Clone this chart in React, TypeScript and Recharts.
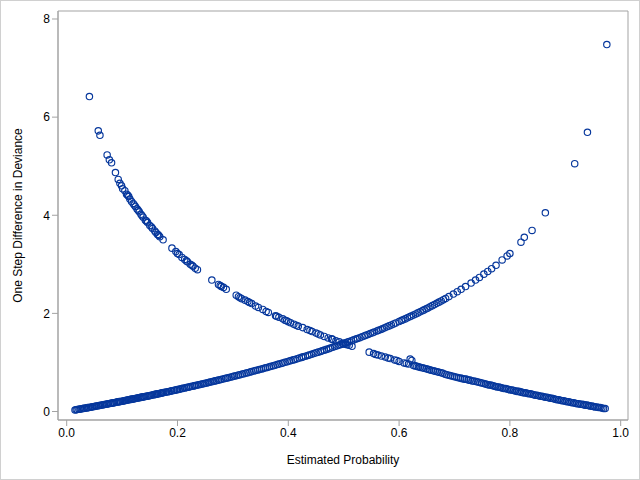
import React from 'react';
import {
  ScatterChart,
  Scatter,
  XAxis,
  YAxis,
  ReferenceArea
} from 'recharts';

// observations with y = 1 : difference falls as the estimated probability rises
const fallProb = [
  0.041, 0.057, 0.06, 0.073, 0.077, 0.081, 0.088, 0.093, 0.096, 0.099, 0.101, 0.105, 0.108, 0.112,
  0.114, 0.117, 0.12, 0.124, 0.127, 0.131, 0.134, 0.138, 0.142, 0.146, 0.15, 0.155, 0.159, 0.164,
  0.168, 0.174, 0.19, 0.197, 0.203, 0.208, 0.213, 0.218, 0.223, 0.228, 0.232, 0.236, 0.262, 0.274,
  0.279, 0.283, 0.288, 0.306, 0.31, 0.316, 0.322, 0.327, 0.334, 0.341, 0.354, 0.36, 0.377, 0.383,
  0.39, 0.397, 0.404, 0.41, 0.418, 0.426, 0.434, 0.443, 0.45, 0.458, 0.465, 0.472, 0.48, 0.486,
  0.492, 0.498, 0.503, 0.51, 0.515, 0.546, 0.554, 0.562, 0.568, 0.575, 0.584, 0.592, 0.6, 0.609,
  0.617, 0.62, 0.623, 0.626, 0.632, 0.638, 0.645, 0.652, 0.658, 0.665, 0.672, 0.679, 0.686, 0.693,
  0.7, 0.707, 0.714, 0.721, 0.728, 0.735, 0.742, 0.749, 0.756, 0.762, 0.768, 0.774, 0.78, 0.786,
  0.792, 0.798, 0.804, 0.81, 0.816, 0.822, 0.828, 0.834, 0.84, 0.846, 0.852, 0.858, 0.864, 0.87,
  0.876, 0.882, 0.888, 0.894, 0.9, 0.906, 0.912, 0.918, 0.924, 0.93, 0.936, 0.942, 0.948, 0.954,
  0.96, 0.966, 0.972
];
const fallDev = [
  6.42, 5.72, 5.63, 5.23, 5.13, 5.07, 4.87, 4.73, 4.65, 4.6, 4.54, 4.5, 4.43, 4.38,
  4.33, 4.28, 4.24, 4.18, 4.13, 4.07, 4.02, 3.96, 3.9, 3.85, 3.79, 3.73, 3.68, 3.61,
  3.56, 3.5, 3.33, 3.26, 3.2, 3.14, 3.1, 3.05, 3.0, 2.96, 2.92, 2.89, 2.68, 2.59,
  2.55, 2.53, 2.49, 2.37, 2.34, 2.3, 2.27, 2.24, 2.2, 2.15, 2.08, 2.04, 1.95, 1.92,
  1.89, 1.85, 1.81, 1.78, 1.74, 1.71, 1.67, 1.63, 1.6, 1.56, 1.53, 1.5, 1.47, 1.44,
  1.42, 1.39, 1.37, 1.35, 1.33, 1.21, 1.18, 1.15, 1.13, 1.11, 1.08, 1.05, 1.02, 0.99,
  0.97, 1.07, 1.04, 0.94, 0.92, 0.9, 0.88, 0.86, 0.84, 0.82, 0.8, 0.78, 0.75, 0.73,
  0.71, 0.69, 0.67, 0.66, 0.64, 0.62, 0.6, 0.58, 0.56, 0.54, 0.53, 0.51, 0.5, 0.48,
  0.47, 0.45, 0.44, 0.42, 0.41, 0.39, 0.38, 0.36, 0.35, 0.33, 0.32, 0.31, 0.29, 0.28,
  0.27, 0.25, 0.24, 0.22, 0.21, 0.2, 0.18, 0.17, 0.16, 0.15, 0.13, 0.12, 0.11, 0.09,
  0.08, 0.07, 0.06
];
// more y = 1 observations where the band is packed
const fallProbMore = [
  0.629, 0.635, 0.642, 0.649, 0.655, 0.662, 0.669, 0.676, 0.683, 0.69, 0.697, 0.704, 0.711, 0.718,
  0.725, 0.732, 0.739, 0.746, 0.753, 0.759, 0.765, 0.771, 0.777, 0.783, 0.789, 0.795, 0.801, 0.807,
  0.813, 0.819, 0.825, 0.831, 0.837, 0.843, 0.849, 0.855, 0.861, 0.867, 0.873, 0.879, 0.885, 0.891,
  0.897, 0.903, 0.909, 0.915, 0.921, 0.927, 0.933, 0.939, 0.945, 0.951, 0.957, 0.963, 0.969,
  0.11, 0.122, 0.129, 0.136, 0.144, 0.153, 0.161, 0.166, 0.2, 0.216, 0.226, 0.277, 0.313, 0.33,
  0.346, 0.364, 0.379, 0.394, 0.4, 0.414, 0.439, 0.454, 0.478, 0.5, 0.506, 0.558, 0.58, 0.596, 0.613
];
const fallDevMore = [
  0.93, 0.91, 0.89, 0.87, 0.85, 0.83, 0.81, 0.79, 0.76, 0.74, 0.72, 0.7, 0.68, 0.66,
  0.64, 0.62, 0.61, 0.59, 0.57, 0.55, 0.54, 0.52, 0.5, 0.49, 0.47, 0.46, 0.44, 0.43,
  0.41, 0.4, 0.38, 0.37, 0.36, 0.34, 0.33, 0.31, 0.3, 0.29, 0.27, 0.26, 0.24, 0.23,
  0.22, 0.2, 0.19, 0.18, 0.16, 0.15, 0.14, 0.13, 0.11, 0.1, 0.09, 0.08, 0.06,
  4.41, 4.21, 4.1, 3.99, 3.88, 3.76, 3.65, 3.59, 3.22, 3.07, 2.98, 2.57, 2.32, 2.22,
  2.12, 2.02, 1.94, 1.86, 1.83, 1.76, 1.65, 1.58, 1.48, 1.38, 1.36, 1.16, 1.09, 1.04, 0.98
];

// observations with y = 0 : difference grows with the estimated probability
const riseProb = [
  0.015, 0.019, 0.022, 0.026, 0.029, 0.033, 0.036, 0.04, 0.043, 0.047, 0.05, 0.054, 0.057, 0.061,
  0.064, 0.068, 0.071, 0.075, 0.078, 0.082, 0.086, 0.089, 0.093, 0.097, 0.1, 0.104, 0.108, 0.112,
  0.116, 0.12, 0.124, 0.128, 0.132, 0.136, 0.14, 0.145, 0.149, 0.153, 0.158, 0.162, 0.166, 0.171,
  0.175, 0.18, 0.185, 0.19, 0.195, 0.2, 0.205, 0.21, 0.216, 0.221, 0.227, 0.232, 0.238, 0.244,
  0.25, 0.256, 0.262, 0.268, 0.274, 0.28, 0.287, 0.293, 0.3, 0.306, 0.313, 0.32, 0.327, 0.334,
  0.341, 0.348, 0.355, 0.362, 0.369, 0.376, 0.383, 0.39, 0.398, 0.405, 0.412, 0.42, 0.427, 0.435,
  0.442, 0.45, 0.458, 0.465, 0.473, 0.48, 0.488, 0.495, 0.503, 0.51, 0.518, 0.525, 0.533, 0.54,
  0.548, 0.555, 0.563, 0.57, 0.578, 0.586, 0.594, 0.6, 0.607, 0.615, 0.622, 0.63, 0.638, 0.645,
  0.652, 0.66, 0.668, 0.676, 0.684, 0.69, 0.698, 0.705, 0.712, 0.72, 0.73, 0.738, 0.745, 0.753,
  0.76, 0.767, 0.775, 0.786, 0.795, 0.8, 0.82, 0.826, 0.84, 0.864, 0.917, 0.94, 0.975
];
const riseDev = [
  0.03, 0.04, 0.045, 0.053, 0.06, 0.068, 0.074, 0.082, 0.088, 0.096, 0.103, 0.111, 0.118, 0.126,
  0.132, 0.141, 0.147, 0.156, 0.162, 0.171, 0.18, 0.187, 0.196, 0.204, 0.211, 0.22, 0.229, 0.238,
  0.247, 0.256, 0.265, 0.274, 0.283, 0.293, 0.302, 0.313, 0.323, 0.332, 0.344, 0.354, 0.363, 0.375,
  0.385, 0.397, 0.409, 0.421, 0.434, 0.446, 0.459, 0.472, 0.487, 0.5, 0.515, 0.528, 0.544, 0.559,
  0.575, 0.591, 0.607, 0.624, 0.64, 0.657, 0.676, 0.693, 0.713, 0.73, 0.751, 0.771, 0.792, 0.813,
  0.834, 0.856, 0.877, 0.899, 0.921, 0.943, 0.966, 0.989, 1.015, 1.039, 1.062, 1.089, 1.114, 1.142,
  1.167, 1.196, 1.225, 1.251, 1.281, 1.308, 1.339, 1.367, 1.399, 1.427, 1.46, 1.489, 1.523, 1.553,
  1.588, 1.62, 1.656, 1.688, 1.726, 1.764, 1.803, 1.833, 1.868, 1.909, 1.946, 1.989, 2.032, 2.071,
  2.111, 2.158, 2.205, 2.254, 2.304, 2.342, 2.395, 2.442, 2.49, 2.546, 2.619, 2.68, 2.733, 2.8,
  2.854, 2.91, 2.98, 3.09, 3.17, 3.22, 3.45, 3.55, 3.69, 4.05, 5.05, 5.69, 7.48
];
// more y = 0 observations where the band is packed
const riseProbMore = [
  0.017, 0.024, 0.031, 0.038, 0.045, 0.052, 0.059, 0.066, 0.073, 0.08, 0.084, 0.091, 0.095, 0.102,
  0.106, 0.11, 0.114, 0.118, 0.122, 0.126, 0.13, 0.134, 0.138, 0.143, 0.147, 0.151, 0.156, 0.16,
  0.164, 0.169, 0.173, 0.178, 0.183, 0.188, 0.193, 0.198, 0.203, 0.208, 0.213, 0.219, 0.224, 0.23,
  0.235, 0.241, 0.247, 0.253, 0.259, 0.265, 0.271, 0.277, 0.284, 0.29, 0.297, 0.303, 0.31, 0.317,
  0.324, 0.331, 0.338, 0.345, 0.352, 0.359, 0.366, 0.373, 0.38, 0.387, 0.394, 0.402, 0.409, 0.416,
  0.424, 0.431, 0.438, 0.446, 0.454, 0.461, 0.469, 0.476, 0.484, 0.492, 0.499, 0.507, 0.514, 0.522,
  0.529, 0.537, 0.544, 0.552, 0.56, 0.567, 0.574, 0.582, 0.59, 0.604, 0.611, 0.619, 0.626, 0.634,
  0.642, 0.649, 0.656, 0.664, 0.672, 0.68
];
const riseDevMore = [
  0.035, 0.049, 0.064, 0.079, 0.093, 0.108, 0.123, 0.137, 0.153, 0.168, 0.176, 0.192, 0.201, 0.216,
  0.225, 0.235, 0.243, 0.252, 0.261, 0.27, 0.28, 0.289, 0.298, 0.309, 0.318, 0.328, 0.34, 0.349,
  0.359, 0.37, 0.38, 0.392, 0.404, 0.416, 0.429, 0.441, 0.455, 0.467, 0.48, 0.495, 0.508, 0.523,
  0.536, 0.552, 0.567, 0.583, 0.6, 0.616, 0.633, 0.649, 0.668, 0.685, 0.705, 0.722, 0.742, 0.763,
  0.783, 0.805, 0.826, 0.847, 0.868, 0.89, 0.912, 0.934, 0.958, 0.98, 1.002, 1.028, 1.052, 1.076,
  1.103, 1.128, 1.153, 1.181, 1.21, 1.236, 1.266, 1.294, 1.323, 1.355, 1.383, 1.414, 1.443, 1.476,
  1.505, 1.54, 1.571, 1.605, 1.642, 1.672, 1.706, 1.745, 1.784, 1.853, 1.888, 1.93, 1.966, 2.01,
  2.054, 2.094, 2.134, 2.181, 2.229, 2.279
];

const xTicks = [0, 0.2, 0.4, 0.6, 0.8, 1.0];
const yTicks = [0, 2, 4, 6, 8];

const toPoints = (ps: number[], ds: number[]) => ps.map((p, i) => ({ p, d: ds[i] }));
const riseData = [...toPoints(riseProb, riseDev), ...toPoints(riseProbMore, riseDevMore)];
const fallData = [...toPoints(fallProb, fallDev), ...toPoints(fallProbMore, fallDevMore)];

const MARKER = '#06379c';
const AXIS = '#a3a3a3';
const FONT = '"Liberation Sans", Arial, sans-serif';

const OpenCircle = (props: any) => (
  <circle cx={props.cx} cy={props.cy} r={3.2} fill="none" stroke={MARKER} strokeWidth={1.15} />
);

const App: React.FC = () => {
  return (
    <div
      style={{
        position: 'absolute',
        left: 0,
        top: 0,
        width: 640,
        height: 480,
        boxSizing: 'border-box',
        border: '1px solid #d0d0d0',
        background: '#fff',
        fontFamily: FONT
      }}
    >
      <ScatterChart
        width={638}
        height={478}
        margin={{ top: 10, right: 11, left: 0, bottom: 0 }}
      >
        <XAxis
          type="number"
          dataKey="p"
          domain={[-0.0157, 1.0132]}
          ticks={xTicks}
          tickFormatter={(v: number) => v.toFixed(1)}
          allowDataOverflow
          height={59}
          stroke={AXIS}
          tickSize={6}
          tick={{ fill: '#000', fontSize: 12, fontFamily: FONT }}
          label={{
            value: 'Estimated Probability',
            position: 'insideBottom',
            offset: 15,
            style: { fill: '#000', fontSize: 12, fontFamily: FONT }
          }}
        />
        <YAxis
          type="number"
          dataKey="d"
          domain={[-0.173, 8.163]}
          ticks={yTicks}
          allowDataOverflow
          width={57}
          stroke={AXIS}
          tickSize={6}
          tick={{ fill: '#000', fontSize: 12, fontFamily: FONT }}
          label={{
            value: 'One Step Difference in Deviance',
            angle: -90,
            position: 'insideLeft',
            offset: 17,
            style: { fill: '#000', fontSize: 12, fontFamily: FONT, textAnchor: 'middle' }
          }}
        />
        <ReferenceArea
          x1={-0.0157}
          x2={1.0132}
          y1={-0.173}
          y2={8.163}
          fill="none"
          fillOpacity={0}
          stroke={AXIS}
          strokeWidth={1}
          ifOverflow="visible"
        />
        <Scatter data={riseData} shape={OpenCircle} isAnimationActive={false} />
        <Scatter data={fallData} shape={OpenCircle} isAnimationActive={false} />
      </ScatterChart>
    </div>
  );
};

export default App;
